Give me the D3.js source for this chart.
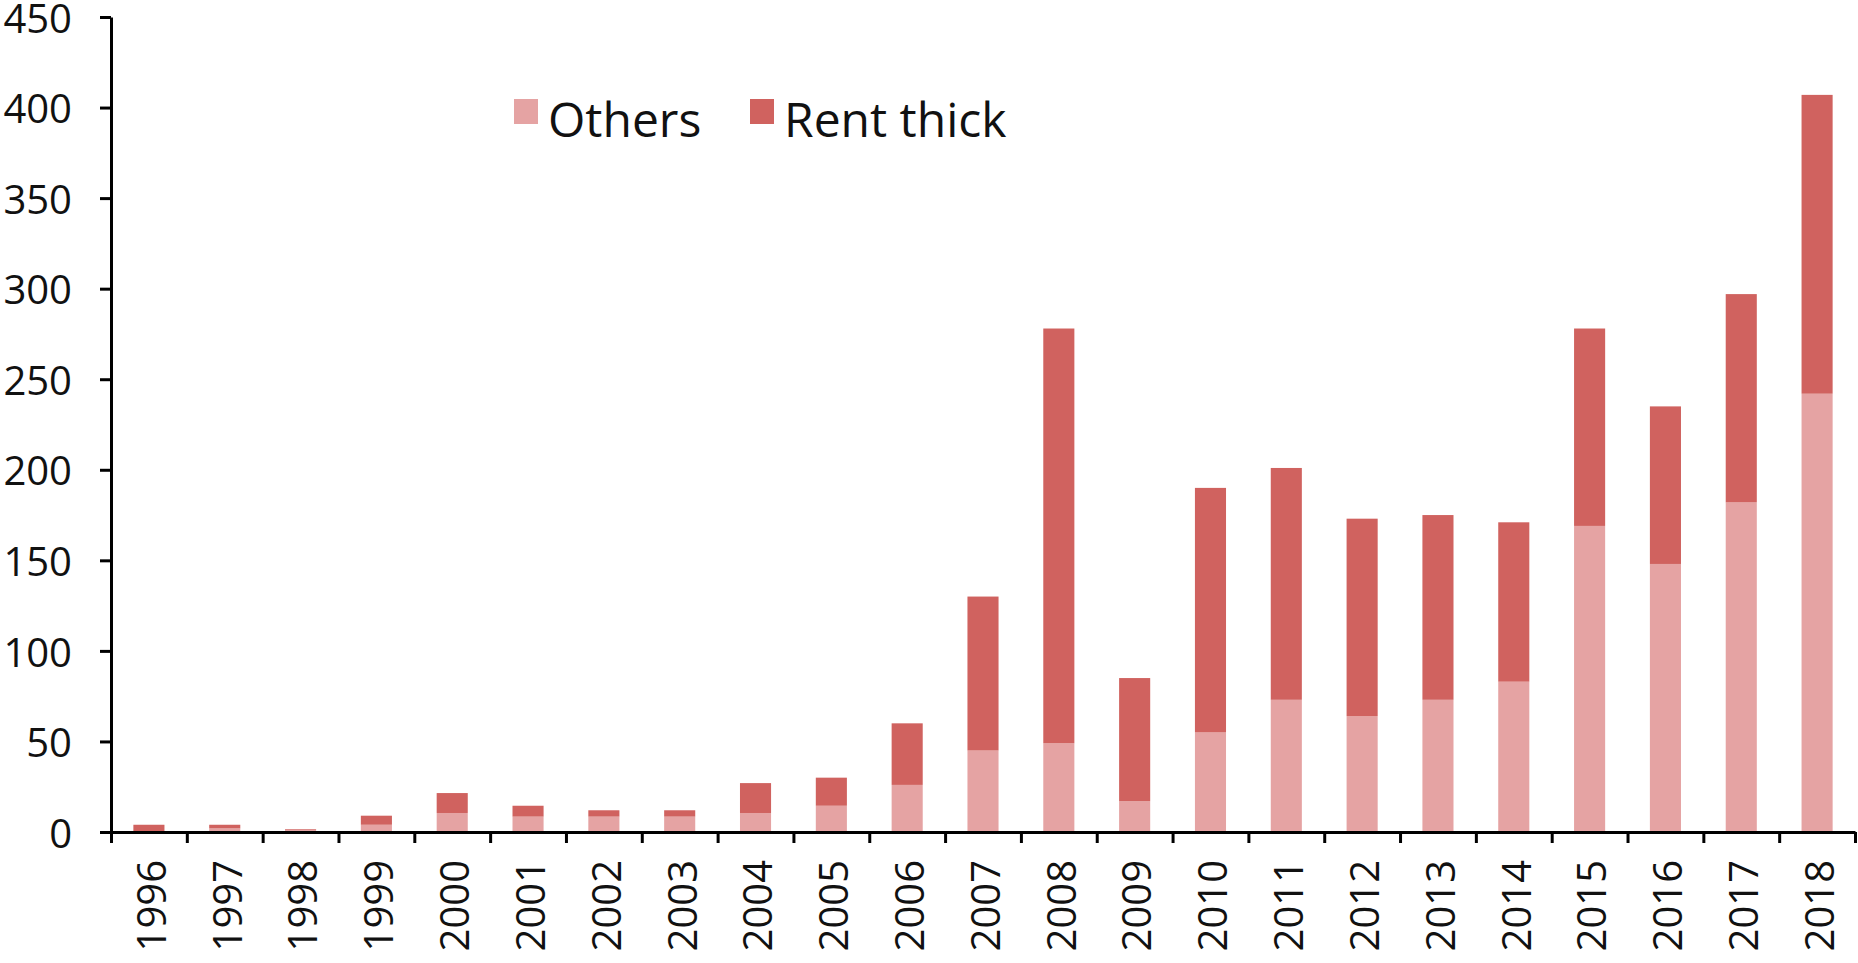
<!DOCTYPE html>
<html>
<head>
<meta charset="utf-8">
<script src="https://d3js.org/d3.v7.min.js"></script>
<style>
  body { margin: 0; background: #fff; }
  svg text { font-family: "Open Sans", "Noto Sans", sans-serif; fill: #111; }
</style>
</head>
<body>
<svg id="chart" width="1858" height="963"></svg>
<script>
// values
var years = ["1996","1997","1998","1999","2000","2001","2002","2003","2004","2005","2006","2007",
             "2008","2009","2010","2011","2012","2013","2014","2015","2016","2017","2018"];
var others    = [0.5, 2, 1, 4, 10.5, 8.5, 8.5, 8.5, 10.5, 14.5, 26, 45, 49, 17, 55, 73, 64, 73, 83, 169, 148, 182, 242];
var rentThick = [3.5, 2, 0.5, 5, 11, 6, 3.5, 3.5, 16.5, 15.5, 34, 85, 229, 68, 135, 128, 109, 102, 88, 109, 87, 115, 165];
var yTicks = [0, 50, 100, 150, 200, 250, 300, 350, 400, 450];
var seriesNames = ["Others", "Rent thick"];
var seriesColors = ["#e5a3a3", "#d0625f"];

var svg = d3.select("#chart");

// plot box (note: "top" is taken by window.top, so use other names)
var plotLeft = 111, plotRight = 1855, plotTop = 17, plotBottom = 832;

var x = d3.scaleBand()
    .domain(years)
    .range([plotLeft, plotRight])
    .paddingInner(0.59)
    .paddingOuter(0.295);

var xEdge = d3.scaleLinear()
    .domain([0, years.length])
    .range([plotLeft, plotRight]);

var y = d3.scaleLinear()
    .domain([0, 450])
    .range([plotBottom, plotTop]);

// stack the two series
var rows = years.map(function(yr, i) {
    return { year: yr, "Others": others[i], "Rent thick": rentThick[i] };
});
var stacked = d3.stack().keys(seriesNames)(rows);

svg.append("g").selectAll("g")
    .data(stacked)
    .enter().append("g")
    .attr("fill", function(d, i) { return seriesColors[i]; })
    .selectAll("rect")
    .data(function(d) { return d; })
    .enter().append("rect")
    .attr("x", function(d) { return x(d.data.year); })
    .attr("width", x.bandwidth())
    .attr("y", function(d) { return y(d[1]); })
    .attr("height", function(d) { return y(d[0]) - y(d[1]); });

// y axis
var yAxis = svg.append("g")
    .attr("transform", "translate(" + plotLeft + ",0)")
    .call(d3.axisLeft(y).tickValues(yTicks).tickSize(11).tickSizeOuter(0).tickPadding(28));
yAxis.selectAll("path, line").attr("stroke", "#000").attr("stroke-width", 3);
yAxis.selectAll("text").style("font-size", "40px").attr("dy", "0.38em");

// x axis: ticks between categories
var xAxis = svg.append("g")
    .attr("transform", "translate(0," + plotBottom + ")")
    .call(d3.axisBottom(xEdge).tickValues(d3.range(years.length + 1)).tickSize(11).tickSizeOuter(0).tickFormat(""));
xAxis.selectAll("path, line").attr("stroke", "#000").attr("stroke-width", 3);

// x labels, rotated
var xLabels = svg.append("g")
    .attr("transform", "translate(0," + plotBottom + ")")
    .call(d3.axisBottom(x).tickSize(0).tickPadding(0));
xLabels.select(".domain").remove();
xLabels.selectAll("text")
    .style("font-size", "40px")
    .attr("transform", "rotate(-90)")
    .attr("text-anchor", "end")
    .attr("x", -28)
    .attr("y", 0)
    .attr("dy", "0.42em");

// legend
var legendX = [514, 750];
var legend = svg.append("g").selectAll("g")
    .data(seriesNames)
    .enter().append("g")
    .attr("transform", function(d, i) { return "translate(" + legendX[i] + ",99)"; });
legend.append("rect")
    .attr("width", 24)
    .attr("height", 25)
    .attr("fill", function(d, i) { return seriesColors[i]; });
legend.append("text")
    .attr("x", 34)
    .attr("y", 38)
    .style("font-size", "48px")
    .text(function(d) { return d; });
</script>
</body>
</html>
